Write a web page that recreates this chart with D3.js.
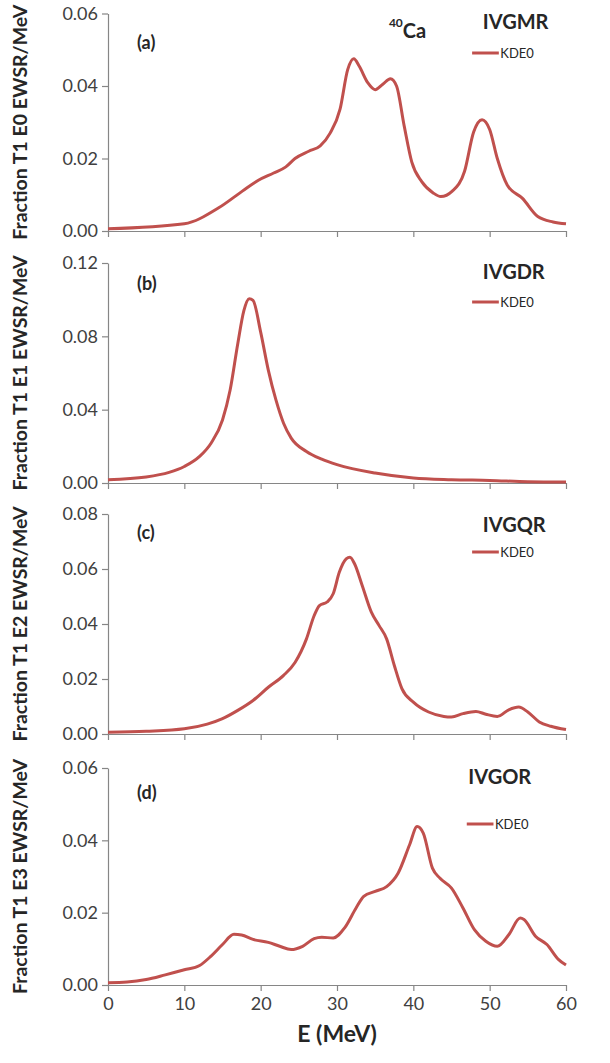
<!DOCTYPE html>
<html>
<head>
<meta charset="utf-8">
<script src="https://cdn.jsdelivr.net/npm/d3@7"></script>
<style>
  html, body { margin: 0; padding: 0; background: #fff; }
  svg { display: block; font-family: Lato, "Open Sans", sans-serif; }
</style>
</head>
<body>
<svg id="chart" width="610" height="1063"></svg>
<script>
// Energy grid (MeV) and strength for each multipole, KDE0 on 40Ca
var gmrE = [0, 10, 14.5, 17.6, 19.7, 21.7, 23.3, 24.5, 26.3, 27.8, 29.1, 30.4, 31.4, 32.2, 32.9, 34, 35, 36, 37, 37.8, 38.8, 39.8, 41.1, 42.6, 43.6, 45.1, 46.7, 47.9, 49, 50, 51, 52.3, 54.3, 56.3, 58.3, 60];
var gmrY = [0.0006, 0.002, 0.0064, 0.011, 0.014, 0.016, 0.0177, 0.020, 0.022, 0.0235, 0.027, 0.0336, 0.0445, 0.0475, 0.0455, 0.041, 0.039, 0.0405, 0.042, 0.040, 0.029, 0.019, 0.0136, 0.0105, 0.0095, 0.011, 0.0164, 0.0273, 0.0307, 0.028, 0.020, 0.0127, 0.009, 0.004, 0.0025, 0.002];

var gdrE = [0, 5, 8, 10, 12, 13.5, 15, 16, 17, 17.8, 18.5, 19, 20, 21, 22, 23, 24, 26, 28, 30, 35, 40, 45, 50, 55, 60];
var gdrY = [0.0018, 0.0033, 0.0058, 0.009, 0.0145, 0.0217, 0.0344, 0.0507, 0.076, 0.094, 0.1005, 0.0996, 0.0823, 0.0616, 0.0453, 0.0326, 0.0245, 0.0172, 0.013, 0.010, 0.0054, 0.0027, 0.0018, 0.0014, 0.0007, 0.0005];

var gqrE = [0, 5, 10, 13, 15, 17, 19, 21, 23, 24.5, 26, 27, 27.7, 28.7, 29.5, 30.3, 31.2, 31.7, 32.3, 33.3, 34.5, 35.5, 36.5, 37.5, 38.5, 40, 42, 44, 45, 46.5, 48.2, 49.5, 51, 52.5, 53.8, 55, 56.5, 58, 60];
var gqrY = [0.0006, 0.001, 0.0019, 0.0036, 0.0056, 0.0086, 0.0122, 0.017, 0.0213, 0.026, 0.0346, 0.043, 0.0467, 0.048, 0.051, 0.0588, 0.0637, 0.0643, 0.0619, 0.054, 0.0443, 0.0395, 0.0346, 0.025, 0.0165, 0.0116, 0.008, 0.0064, 0.0062, 0.0074, 0.0082, 0.0072, 0.0064, 0.0088, 0.0098, 0.008, 0.0044, 0.0028, 0.0016];

var gorE = [0, 2.5, 5, 7.5, 10, 12, 13.5, 15, 16.5, 17.5, 19, 21, 22.5, 24, 25.5, 27, 28, 29.5, 31, 32.5, 33.5, 35, 36.5, 38, 39.5, 40.5, 41.3, 42.5, 43.5, 45, 46.5, 48, 49.5, 51, 52.5, 54, 54.5, 56, 57.5, 59, 60];
var gorY = [0.0006, 0.0008, 0.0015, 0.0028, 0.0042, 0.0054, 0.008, 0.0112, 0.014, 0.0138, 0.0126, 0.0118, 0.0107, 0.0098, 0.0107, 0.0128, 0.0132, 0.013, 0.0158, 0.0213, 0.0245, 0.0259, 0.0272, 0.0309, 0.0387, 0.0438, 0.042, 0.0323, 0.0295, 0.0268, 0.0213, 0.0153, 0.0121, 0.0107, 0.0139, 0.0185, 0.0181, 0.0135, 0.0112, 0.0071, 0.0055];

var xTicks = [0, 10, 20, 30, 40, 50, 60];
var panelLetters = ['(a)', '(b)', '(c)', '(d)'];
var panelNames = ['IVGMR', 'IVGDR', 'IVGQR', 'IVGOR'];
var yTitles = ['Fraction T1 E0 EWSR/MeV', 'Fraction T1 E1 EWSR/MeV', 'Fraction T1 E2 EWSR/MeV', 'Fraction T1 E3 EWSR/MeV'];
var yMaxes = [0.06, 0.12, 0.08, 0.06];
var yTickSets = [[0, 0.02, 0.04, 0.06], [0, 0.04, 0.08, 0.12], [0, 0.02, 0.04, 0.06, 0.08], [0, 0.02, 0.04, 0.06]];
var seriesName = 'KDE0';

var series = [
    { e: gmrE, y: gmrY },
    { e: gdrE, y: gdrY },
    { e: gqrE, y: gqrY },
    { e: gorE, y: gorY }
];

// Panel placement (pixel boxes of each plot area, label spots in MeV)
var panels = [
    { top: 13.5, bottom: 231, legendY: 53, nameY: 29, letterY: 49, legendX: 47.7, nameX: 49.1 },
    { top: 263, bottom: 483, legendY: 302, nameY: 279, letterY: 290, legendX: 47.7, nameX: 49.1 },
    { top: 514, bottom: 734, legendY: 552, nameY: 532, letterY: 539, legendX: 47.7, nameX: 49.1 },
    { top: 768, bottom: 985, legendY: 824, nameY: 784, letterY: 799, legendX: 47.0, nameX: 47.2 }
];
var left = 108, right = 566;
var lineColor = '#c0504d', axisColor = '#868686', textColor = '#404040';

var svg = d3.select('#chart');

var x = d3.scaleLinear().domain([0, 60]).range([left, right]);

panels.forEach(function(p, i) {
    var y = d3.scaleLinear().domain([0, yMaxes[i]]).range([p.bottom, p.top]);
    var g = svg.append('g');

    // Y axis
    var yAxis = d3.axisLeft(y)
        .tickValues(yTickSets[i])
        .tickFormat(d3.format('.2f'))
        .tickSize(6)
        .tickSizeOuter(0)
        .tickPadding(4);
    var ya = g.append('g')
        .attr('transform', 'translate(' + left + ',0)')
        .call(yAxis);

    // X axis (numbers only on the bottom panel)
    var xAxis = d3.axisBottom(x)
        .tickValues(xTicks)
        .tickSize(6)
        .tickSizeOuter(0)
        .tickFormat(i === 3 ? d3.format('d') : function() { return ''; })
        .tickPadding(6);
    var xa = g.append('g')
        .attr('transform', 'translate(0,' + p.bottom + ')')
        .call(xAxis);

    [ya, xa].forEach(function(a) {
        a.select('.domain').attr('stroke', axisColor).attr('stroke-width', 1.2);
        a.selectAll('.tick line').attr('stroke', axisColor).attr('stroke-width', 1.2);
        a.selectAll('.tick text')
            .attr('fill', textColor)
            .style('font-size', '18px')
            .style('font-family', 'Lato, sans-serif');
    });

    // Y axis title
    g.append('text')
        .attr('transform', 'translate(27,' + ((p.top + p.bottom) / 2) + ') rotate(-90)')
        .attr('text-anchor', 'middle')
        .style('font-size', '19.5px')
        .style('font-weight', 'bold')
        .attr('fill', '#262626')
        .text(yTitles[i]);

    // Curve
    var line = d3.line()
        .x(function(d) { return x(d[0]); })
        .y(function(d) { return y(d[1]); })
        .curve(d3.curveMonotoneX);
    g.append('path')
        .datum(d3.zip(series[i].e, series[i].y))
        .attr('d', line)
        .attr('fill', 'none')
        .attr('stroke', lineColor)
        .attr('stroke-width', 3)
        .attr('stroke-linejoin', 'round');

    // Panel letter
    g.append('text')
        .attr('x', x(3.8))
        .attr('y', p.letterY)
        .style('font-size', '18px')
        .style('font-weight', 'bold')
        .attr('fill', '#262626')
        .text(panelLetters[i]);

    // Mode name
    g.append('text')
        .attr('x', x(p.nameX))
        .attr('y', p.nameY)
        .style('font-size', '20px')
        .style('font-weight', 'bold')
        .attr('fill', '#262626')
        .text(panelNames[i]);

    // Legend
    g.append('line')
        .attr('x1', x(p.legendX))
        .attr('x2', x(p.legendX + 3.5))
        .attr('y1', p.legendY)
        .attr('y2', p.legendY)
        .attr('stroke', lineColor)
        .attr('stroke-width', 3);
    g.append('text')
        .attr('x', x(p.legendX + 3.7))
        .attr('y', p.legendY + 5)
        .style('font-size', '13px')
        .attr('fill', '#262626')
        .text(seriesName);
});

// Nucleus label on the top panel
var nuc = svg.append('text')
    .attr('x', x(36.8))
    .attr('y', 38)
    .attr('fill', '#262626')
    .style('font-weight', 'bold');
nuc.append('tspan').attr('dy', -11).style('font-size', '12px').text('40');
nuc.append('tspan').attr('dy', 11).style('font-size', '20px').text('Ca');

// X axis title
svg.append('text')
    .attr('x', x(30))
    .attr('y', 1042)
    .attr('text-anchor', 'middle')
    .style('font-size', '23px')
    .style('font-weight', 'bold')
    .attr('fill', '#262626')
    .text('E (MeV)');
</script>
</body>
</html>
